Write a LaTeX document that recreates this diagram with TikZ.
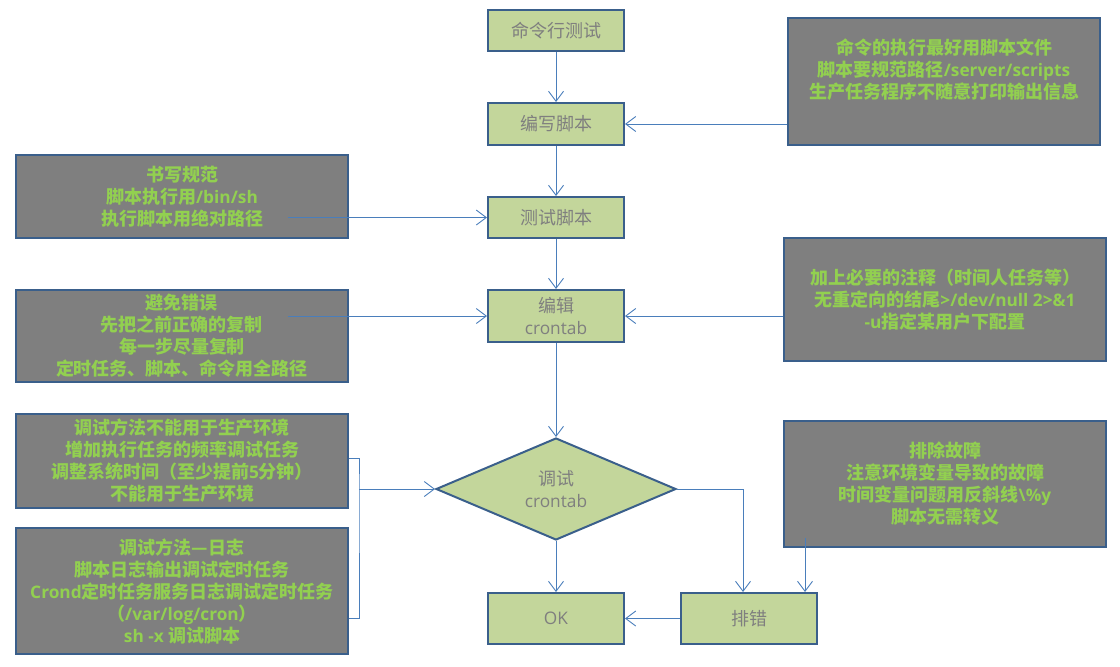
\documentclass[tikz,border=0pt]{standalone}
\usepackage{fontspec}
\setmainfont{Noto Sans CJK SC}
\newfontfamily\latf{Open Sans}[Scale=0.96]
\newcommand\lt[1]{{\latf #1}}
\usetikzlibrary{arrows.meta,shapes.geometric,calc}
\definecolor{bordercol}{HTML}{3A5F8B}
\definecolor{linecol}{HTML}{4A7EBB}
\definecolor{greenfill}{HTML}{C3D69B}
\definecolor{greyfill}{HTML}{7F7F7F}
\definecolor{textgreen}{HTML}{92D050}
\definecolor{boxtext}{HTML}{7F7F7F}
\tikzset{
  gbox/.style={draw=bordercol, line width=2pt, fill=greenfill, text=boxtext,
    minimum width=136pt, inner sep=0pt, align=center,
    font=\fontsize{18}{22}\selectfont},
  greybox/.style={draw=bordercol, line width=2pt, fill=greyfill, text=textgreen,
    inner sep=0pt, align=center, font=\bfseries\fontsize{18}{22}\selectfont},
  conn/.style={draw=linecol, line width=0.9pt, -{Straight Barb[length=10pt,width=15pt]}},
  link/.style={draw=linecol, line width=0.9pt}
}
\begin{document}
\begin{tikzpicture}[x=1pt,y=-1pt]
\useasboundingbox (0,0) rectangle (1120,667);
% main flow
\node[gbox, minimum height=41pt] (c1) at (556,30.5) {命令行测试};
\node[gbox, minimum height=42pt] (c2) at (556,124) {编写脚本};
\node[gbox, minimum height=41pt] (c3) at (556,217.5) {测试脚本};
\node[gbox, minimum height=52pt] (c4) at (556,316) {编辑\\\lt{crontab}};
\node[gbox, diamond, minimum width=240pt, minimum height=102pt, shape aspect=2.35] (dia) at (556,489) {调试\\\lt{crontab}};
\node[gbox, minimum height=51pt] (ok) at (556,618.5) {\lt{OK}};
\node[gbox, minimum height=51pt] (pc) at (749,618.5) {排错};
% grey notes
\node[greybox, minimum width=312pt, minimum height=127pt] (tr) at (944,81.5) {};
\node[text=textgreen, align=center, font=\bfseries\fontsize{18}{22}\selectfont, inner sep=0pt] (trt) at (944,70)
  {命令的执行最好用脚本文件\\脚本要规范路径\lt{/server/scripts}\\生产任务程序不随意打印输出信息};
\node[greybox, minimum width=332pt, minimum height=83pt] (l1) at (182,196.5)
  {书写规范\\脚本执行用\lt{/bin/sh}\\执行脚本用绝对路径};
\node[greybox, minimum width=332pt, minimum height=92pt] (l2) at (182,336)
  {避免错误\\先把之前正确的复制\\每一步尽量复制\\定时任务、脚本、命令用全路径};
\node[greybox, minimum width=322pt, minimum height=123pt] (r2) at (945,299.5)
  {加上必要的注释（时间人任务等）\\无重定向的结尾\lt{>/dev/null 2>\&1}\\\lt{-u}指定某用户下配置};
\node[greybox, minimum width=332pt, minimum height=94pt] (l3) at (182,461)
  {调试方法不能用于生产环境\\增加执行任务的频率调试任务\\调整系统时间（至少提前\lt{5}分钟）\\不能用于生产环境};
\node[greybox, minimum width=332pt, minimum height=126pt] (l4) at (182,591)
  {调试方法—日志\\脚本日志输出调试定时任务\\\lt{Crond}定时任务服务日志调试定时任务\\（\lt{/var/log/cron}）\\\lt{sh -x} 调试脚本};
\node[greybox, minimum width=322pt, minimum height=126pt] (r3) at (945,484)
  {排除故障\\注意环境变量导致的故障\\时间变量问题用反斜线\lt{\textbackslash\%y}\\脚本无需转义};
% connectors
\draw[conn] (c1.south) -- (c2.north);
\draw[conn] (c2.east -| tr.west) -- (c2.east);
\draw[conn] (c2.south) -- (c3.north);
\draw[conn] ($(l1.east |- c3.west)+(-61,0)$) -- (c3.west);
\draw[conn] (c3.south) -- (c4.north);
\draw[conn] ($(l2.east |- c4.west)+(-61,0)$) -- (c4.west);
\draw[conn] (c4.east -| r2.west) -- (c4.east);
\draw[conn] (c4.south) -- (dia.north);
\coordinate (br) at (359,489);
\draw[link] ($(l3.east)+(0,-3)$) -| (br) |- ($(l4.east)+(0,27)$);
\draw[conn] (br) -- (dia.west);
\draw[conn] (dia.south) -- (ok.north);
\draw[conn] (dia.east) -| ($(pc.north)+(-6,0)$);
\coordinate (r3s) at ($(r3.south west)+(22,-10)$);
\draw[conn] (r3s) -- (r3s |- pc.north);
\draw[conn] (pc.west) -- (ok.east);
\end{tikzpicture}
\end{document}
